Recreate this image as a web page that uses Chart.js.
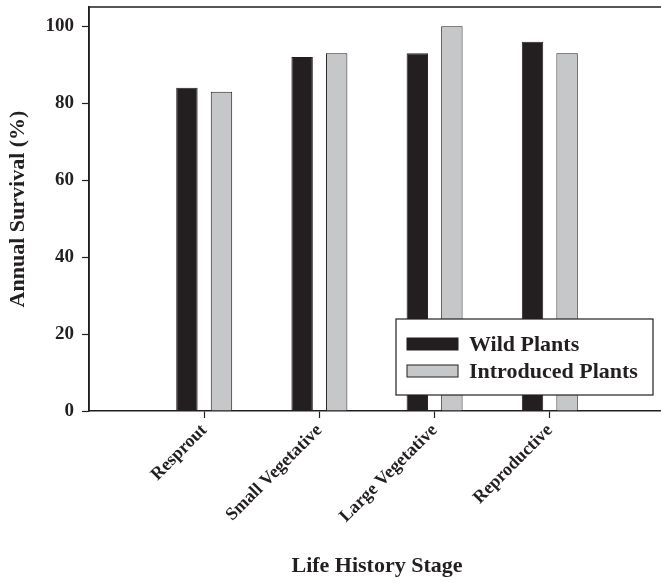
<!DOCTYPE html>
<html>
<head>
<meta charset="utf-8">
<script src="https://cdn.jsdelivr.net/npm/chart.js@4.4.1/dist/chart.umd.min.js"></script>
<style>
  html, body { margin: 0; padding: 0; background: #fff; overflow: hidden; }
  #wrap { width: 661px; height: 583px; overflow: hidden; }
</style>
</head>
<body>
<div id="wrap"><canvas id="survivalChart" width="665" height="583"></canvas></div>
<script>
// life history stages (empty slots at both ends keep the spacing of the original axis)
const stages = ['', 'Resprout', 'Small Vegetative', 'Large Vegetative', 'Reproductive', ''];
const wildPlants = [null, 84, 92, 93, 96, null];
const introducedPlants = [null, 83, 93, 100, 93, null];
const yTicks = [0, 20, 40, 60, 80, 100];

const serif = 'Liberation Serif, Times New Roman, serif';

// frame around the plot area plus the legend box that sits inside it
const framePlugin = {
  id: 'frame',
  afterDraw(chart) {
    const ctx = chart.ctx;
    const a = chart.chartArea;
    ctx.save();
    ctx.strokeStyle = '#231f20';
    ctx.lineWidth = 1.5;
    ctx.beginPath();
    ctx.moveTo(a.left, a.bottom);
    ctx.lineTo(a.left, a.top);
    ctx.lineTo(a.right, a.top);
    ctx.stroke();

    // legend
    const bx = 396, by = 319, bw = 257, bh = 76;
    ctx.fillStyle = '#fff';
    ctx.fillRect(bx, by, bw, bh);
    ctx.lineWidth = 1.2;
    ctx.strokeRect(bx, by, bw, bh);
    ctx.font = 'bold 22px ' + serif;
    ctx.textBaseline = 'middle';
    chart.data.datasets.forEach((ds, i) => {
      const y = by + 25 + i * 27;
      ctx.fillStyle = ds.backgroundColor;
      ctx.fillRect(bx + 11, y - 6, 51, 12);
      ctx.strokeStyle = '#231f20';
      ctx.lineWidth = 1;
      ctx.strokeRect(bx + 11, y - 6, 51, 12);
      ctx.fillStyle = '#231f20';
      ctx.fillText(ds.label, bx + 73, y + 1);
    });
    ctx.restore();
  }
};

new Chart(document.getElementById('survivalChart'), {
  type: 'bar',
  data: {
    labels: stages,
    datasets: [
      {
        label: 'Wild Plants',
        data: wildPlants,
        backgroundColor: '#231f20',
        borderColor: '#231f20',
        borderWidth: 1,
        barPercentage: 0.62,
        categoryPercentage: 0.6
      },
      {
        label: 'Introduced Plants',
        data: introducedPlants,
        backgroundColor: '#c6c7c9',
        borderColor: '#231f20',
        borderWidth: 1,
        barPercentage: 0.62,
        categoryPercentage: 0.6
      }
    ]
  },
  plugins: [framePlugin],
  options: {
    responsive: false,
    animation: false,
    layout: { padding: { top: 7, right: 0, left: 0, bottom: 0 } },
    plugins: {
      legend: { display: false },
      tooltip: { enabled: false }
    },
    scales: {
      x: {
        offset: false,
        grid: {
          offset: false,
          drawOnChartArea: false,
          tickLength: 7,
          tickColor: (c) => (c.index === 0 ? 'rgba(0,0,0,0)' : '#231f20'),
          tickWidth: 1.2
        },
        border: { color: '#231f20', width: 1.5 },
        ticks: {
          autoSkip: false,
          minRotation: 45,
          maxRotation: 45,
          padding: 2,
          color: '#231f20',
          font: { family: serif, weight: 'bold', size: 18 }
        },
        title: {
          display: true,
          text: 'Life History Stage',
          color: '#231f20',
          font: { family: serif, weight: 'bold', size: 22 },
          padding: { top: 0, bottom: 3 }
        },
        afterFit(scale) {
          scale.height = 172;
          scale.paddingLeft = 0;
          scale.paddingRight = 0;
        }
      },
      y: {
        min: 0,
        max: 105,
        afterBuildTicks(scale) { scale.ticks = yTicks.map(v => ({ value: v })); },
        grid: {
          drawOnChartArea: false,
          tickLength: 7,
          tickColor: '#231f20',
          tickWidth: 1.2
        },
        border: { color: '#231f20', width: 1.5 },
        ticks: {
          padding: 8,
          color: '#231f20',
          font: { family: serif, weight: 'bold', size: 19 }
        },
        title: {
          display: true,
          text: 'Annual Survival (%)',
          color: '#231f20',
          font: { family: serif, weight: 'bold', size: 22 },
          padding: { top: 5, bottom: 0 }
        },
        afterFit(scale) {
          scale.width = 89;
          scale.paddingTop = 0;
          scale.paddingBottom = 0;
        }
      }
    }
  }
});
</script>
</body>
</html>
